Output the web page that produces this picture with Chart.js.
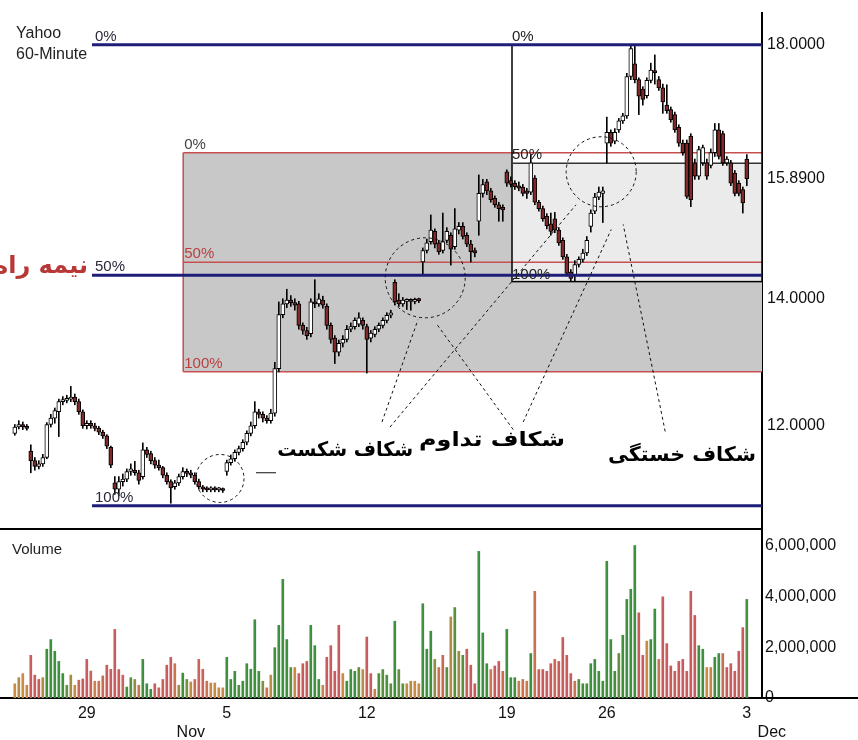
<!DOCTYPE html>
<html>
<head>
<meta charset="utf-8">
<script src="https://cdn.jsdelivr.net/npm/chart.js@4.4.0/dist/chart.umd.min.js"></script>
<style>
  html, body { margin: 0; padding: 0; background: #fff; }
  #wrap { position: relative; width: 858px; height: 740px; overflow: hidden; }
  #price { position: absolute; left: 0; top: 0; }
  #vol { position: absolute; left: 0; top: 528px; }
</style>
</head>
<body>
<div id="wrap">
  <canvas id="price" width="858" height="528"></canvas>
  <canvas id="vol" width="858" height="212"></canvas>
</div>
<script>
// hourly bars, Oct 24 (last hours) .. Dec 3 (first hour)
const openP = [
  11.88, 11.98, 12.02, 11.98, 11.60, 11.45, 11.36, 11.40, 11.50, 12.02,
  12.12, 12.22, 12.38, 12.40, 12.42, 12.45, 12.38, 12.22, 12.00, 12.04,
  12.00, 11.96, 11.90, 11.84, 11.66, 11.10, 11.00, 11.12, 11.16, 11.28,
  11.30, 11.26, 11.20, 11.62, 11.56, 11.45, 11.38, 11.34, 11.22, 11.12,
  11.04, 11.10, 11.20, 11.28, 11.26, 11.22, 11.12, 11.04, 11.00, 10.99,
  11.01, 10.99, 11.00, 11.28, 11.42, 11.48, 11.58, 11.64, 11.74, 11.88,
  12.00, 12.22, 12.18, 12.12, 12.08, 12.20, 12.90, 13.75, 13.92, 13.98,
  13.94, 13.92, 13.58, 13.50, 13.45, 13.95, 13.92, 13.98, 13.88, 13.58,
  13.38, 13.16, 13.30, 13.36, 13.52, 13.56, 13.60, 13.66, 13.56, 13.38,
  13.44, 13.52, 13.58, 13.66, 13.74, 14.26, 13.98, 13.92, 13.96, 13.97,
  13.96, 13.98, 14.58, 14.76, 14.90, 15.06, 14.88, 14.76, 14.92, 15.00,
  14.82, 15.08, 15.14, 15.00, 14.86, 14.76, 15.22, 15.66, 15.84, 15.70,
  15.58, 15.48, 15.44, 16.00, 15.86, 15.82, 15.78, 15.76, 15.70, 15.68,
  15.90, 15.52, 15.42, 15.30, 15.18, 15.26, 15.08, 14.92, 14.66, 14.42,
  14.36, 14.54, 14.62, 14.72, 15.14, 15.38, 15.60, 15.66, 16.45, 16.62,
  16.48, 16.66, 16.80, 16.88, 17.50, 17.70, 17.45, 17.30, 17.20, 17.44,
  17.58, 17.45, 17.32, 17.05, 16.98, 16.90, 16.70, 16.45, 16.45, 16.56,
  16.14, 15.93, 16.14, 16.14, 16.10, 16.30, 16.66, 16.60, 16.14, 16.14,
  15.98, 15.82, 15.72, 16.20
];
const highP = [
  12.02, 12.08, 12.06, 12.02, 11.70, 11.50, 11.45, 11.55, 12.05, 12.18,
  12.28, 12.42, 12.46, 12.48, 12.62, 12.50, 12.42, 12.25, 12.08, 12.08,
  12.04, 11.99, 11.93, 11.86, 11.68, 11.20, 11.20, 11.24, 11.32, 11.40,
  11.44, 11.30, 11.73, 11.66, 11.60, 11.50, 11.46, 11.36, 11.26, 11.15,
  11.14, 11.24, 11.34, 11.32, 11.30, 11.26, 11.16, 11.06, 11.04, 11.04,
  11.04, 11.03, 11.02, 11.46, 11.54, 11.62, 11.68, 11.78, 11.92, 12.06,
  12.38, 12.26, 12.22, 12.16, 12.26, 13.00, 13.95, 14.00, 14.15, 14.05,
  14.00, 13.96, 13.62, 13.55, 14.00, 14.30, 14.08, 14.04, 13.92, 13.62,
  13.42, 13.35, 13.42, 13.58, 13.62, 13.70, 13.78, 13.70, 13.60, 13.50,
  13.56, 13.62, 13.70, 13.78, 13.82, 14.30, 14.08, 14.02, 14.00, 14.00,
  14.01, 14.01, 14.80, 14.94, 15.32, 15.10, 14.92, 15.35, 15.12, 15.04,
  15.42, 15.20, 15.20, 15.04, 14.92, 14.80, 15.95, 15.88, 15.88, 15.74,
  15.62, 15.52, 15.48, 16.03, 15.92, 15.86, 15.84, 15.80, 15.74, 16.27,
  15.94, 15.55, 15.46, 15.34, 15.35, 15.36, 15.12, 14.96, 14.70, 14.46,
  14.60, 14.66, 14.78, 14.98, 15.40, 15.66, 15.76, 15.76, 16.86, 16.66,
  16.68, 16.84, 16.92, 17.55, 18.00, 18.00, 17.48, 17.34, 17.48, 17.71,
  17.84, 17.50, 17.38, 17.37, 17.02, 16.94, 16.74, 16.50, 16.50, 16.60,
  16.20, 16.40, 16.42, 16.20, 16.36, 16.76, 16.76, 16.64, 16.24, 16.18,
  16.02, 15.86, 15.76, 16.27
];
const lowP = [
  11.85, 11.95, 11.94, 11.93, 11.26, 11.30, 11.32, 11.36, 11.48, 11.98,
  12.04, 11.83, 12.33, 12.36, 12.38, 12.33, 12.18, 11.96, 11.95, 11.96,
  11.92, 11.86, 11.80, 11.64, 11.34, 10.92, 10.90, 11.05, 11.12, 11.22,
  11.22, 11.08, 11.16, 11.50, 11.40, 11.33, 11.30, 11.18, 11.08, 10.78,
  11.00, 11.06, 11.16, 11.20, 11.18, 11.08, 11.00, 10.96, 10.96, 10.96,
  10.96, 10.96, 10.95, 11.22, 11.38, 11.44, 11.54, 11.60, 11.70, 11.84,
  11.96, 12.12, 12.06, 12.04, 12.04, 12.15, 12.85, 13.70, 13.86, 13.88,
  13.82, 13.52, 13.44, 13.36, 13.40, 13.86, 13.88, 13.85, 13.52, 13.30,
  12.98, 13.10, 13.24, 13.32, 13.48, 13.52, 13.56, 13.52, 12.83, 13.32,
  13.40, 13.48, 13.54, 13.62, 13.70, 13.90, 13.88, 13.88, 13.83, 13.82,
  13.92, 13.94, 14.38, 14.72, 14.86, 14.80, 14.70, 14.72, 14.88, 14.53,
  14.78, 15.02, 14.94, 14.82, 14.58, 14.66, 15.00, 15.60, 15.64, 15.52,
  15.44, 15.22, 15.22, 15.77, 15.76, 15.72, 15.70, 15.62, 15.58, 15.64,
  15.48, 15.38, 15.22, 15.10, 15.00, 15.04, 14.84, 14.62, 14.36, 14.27,
  14.28, 14.50, 14.58, 14.68, 15.05, 15.34, 15.56, 15.20, 16.14, 16.40,
  16.44, 16.62, 16.76, 16.84, 17.45, 17.40, 16.90, 17.05, 17.16, 17.40,
  17.38, 17.28, 16.92, 16.92, 16.78, 16.62, 16.40, 16.26, 15.58, 15.45,
  15.88, 15.88, 16.10, 15.88, 16.06, 16.24, 16.20, 16.10, 16.10, 15.78,
  15.62, 15.62, 15.35, 15.78
];
const closeP = [
  11.98, 12.02, 11.98, 11.96, 11.45, 11.36, 11.40, 11.50, 12.02, 12.12,
  12.24, 12.38, 12.40, 12.42, 12.45, 12.38, 12.22, 12.00, 12.04, 12.00,
  11.96, 11.90, 11.84, 11.68, 11.38, 11.00, 11.12, 11.16, 11.28, 11.32,
  11.26, 11.14, 11.62, 11.55, 11.45, 11.38, 11.34, 11.22, 11.12, 11.02,
  11.10, 11.20, 11.28, 11.25, 11.22, 11.12, 11.04, 11.00, 10.99, 11.01,
  10.99, 11.00, 10.98, 11.42, 11.48, 11.58, 11.64, 11.74, 11.88, 12.00,
  12.22, 12.18, 12.12, 12.08, 12.20, 12.90, 13.75, 13.92, 13.98, 13.94,
  13.90, 13.58, 13.50, 13.42, 13.95, 13.92, 14.00, 13.90, 13.58, 13.36,
  13.16, 13.30, 13.36, 13.52, 13.56, 13.66, 13.70, 13.58, 13.36, 13.46,
  13.52, 13.58, 13.66, 13.74, 13.78, 13.95, 13.92, 13.98, 13.97, 13.96,
  13.98, 13.97, 14.76, 14.88, 15.08, 14.86, 14.74, 14.90, 15.06, 14.78,
  15.10, 15.14, 14.98, 14.86, 14.74, 14.72, 15.66, 15.80, 15.70, 15.56,
  15.48, 15.42, 15.40, 15.82, 15.80, 15.76, 15.74, 15.66, 15.66, 16.14,
  15.52, 15.42, 15.26, 15.15, 15.06, 15.08, 14.88, 14.66, 14.40, 14.32,
  14.54, 14.62, 14.72, 14.92, 15.35, 15.60, 15.68, 15.70, 16.62, 16.45,
  16.62, 16.80, 16.88, 17.50, 17.94, 17.45, 17.19, 17.14, 17.44, 17.60,
  17.56, 17.32, 17.10, 16.96, 16.82, 16.66, 16.45, 16.30, 15.61, 15.56,
  15.93, 16.35, 16.38, 15.93, 16.30, 16.66, 16.24, 16.14, 16.20, 15.82,
  15.66, 15.66, 15.51, 15.89
];
// volume in millions of shares
const volume = [
  0.56, 0.80, 0.96, 0.50, 1.68, 0.90, 0.73, 0.80, 1.92, 2.30,
  1.84, 1.44, 0.96, 0.50, 0.90, 0.50, 0.70, 0.75, 1.52, 1.06,
  0.66, 0.66, 0.87, 1.29, 1.13, 2.70, 1.12, 0.90, 0.43, 0.80,
  0.73, 0.50, 1.52, 0.56, 0.34, 0.56, 0.40, 0.73, 1.29, 1.60,
  1.35, 0.50, 0.98, 0.73, 0.63, 0.73, 1.52, 1.13, 0.66, 0.59,
  0.59, 0.40, 0.40, 1.60, 0.73, 1.05, 0.50, 0.66, 1.35, 1.13,
  3.08, 1.05, 0.66, 0.40, 0.90, 1.98, 2.86, 4.67, 2.30, 1.20,
  1.20, 0.96, 1.35, 1.44, 2.86, 2.06, 0.73, 0.50, 1.60, 2.06,
  1.05, 2.86, 0.96, 0.66, 1.12, 1.05, 1.20, 1.12, 2.40, 0.96,
  0.34, 0.96, 1.12, 0.90, 0.56, 3.02, 1.12, 0.56, 0.56, 0.66,
  0.66, 0.56, 3.71, 1.92, 2.63, 1.52, 1.20, 1.68, 1.20, 3.19,
  3.56, 1.84, 1.68, 1.92, 1.29, 0.56, 5.77, 2.56, 1.35, 1.12,
  1.26, 1.44, 1.05, 2.70, 0.80, 0.80, 0.66, 0.73, 0.66, 1.75,
  4.20, 1.12, 1.12, 1.05, 1.35, 1.52, 1.44, 2.38, 1.68, 0.96,
  0.66, 0.73, 0.56, 0.56, 1.35, 1.52, 1.05, 0.66, 5.38, 2.30,
  1.05, 1.75, 2.47, 3.88, 4.28, 6.00, 3.35, 1.68, 2.24, 2.30,
  3.50, 1.52, 3.98, 2.14, 1.26, 1.05, 1.44, 1.52, 1.05, 4.20,
  3.25, 2.06, 1.92, 1.20, 1.20, 1.60, 1.75, 1.75, 1.20, 1.35,
  1.05, 1.84, 2.77, 3.88
];

const dateTicks = [18, 53, 88, 123, 148, 183];
const dateLabels = ['29', '5', '12', '19', '26', '3'];
const monthLabels = [{ at: 53, text: 'Nov', dx: -36 }, { at: 183, text: 'Dec', dx: 25 }];
const priceTicks = [12, 14, 15.89, 18];
const volumeTicks = [0, 2, 4, 6];

// fibonacci levels (0%, 50%, 100%) and the bar where each set starts
const swingLevels = [18.0, 14.37, 10.74];
const swingFrom = 19.3;
const boxLevels = [16.30, 14.575, 12.85];
const boxFrom = 42.1;
const pullbackLevels = [18.0, 16.135, 14.27];
const pullbackFrom = 124.3;

const gapCircles = [
  { x: 51.3, y: 11.17, r: 24 },
  { x: 102.6, y: 14.33, r: 40 },
  { x: 146.6, y: 16.0, r: 35 }
];
const leaderLines = [
  [91.8, 12.06, 100.8, 13.67],
  [93.8, 11.98, 140.3, 15.48],
  [124.6, 11.94, 105.6, 13.59],
  [127.1, 12.06, 149.1, 15.09],
  [162.6, 11.91, 152.1, 15.17]
];
const gapLabels = [
  { text: 'شکاف شکست', x: 82.6, y: 11.60, w: 136 },
  { text: 'شکاف تداوم', x: 119.3, y: 11.76, w: 146 },
  { text: 'شکاف خستگی', x: 166.8, y: 11.52, w: 148 }
];

const xMin = -3.7;
const xMax = 186.8;
const FONT = '"Liberation Sans", Arial, sans-serif';

const bodies = openP.map((o, i) => ({ x: i, y: [o, closeP[i]], up: closeP[i] >= o }));
const wicks = lowP.map((l, i) => ({ x: i, y: [l, highP[i]] }));

const green = [63, 143, 63];
const orange = [200, 140, 72];
const red = [200, 92, 92];
const mix = (a, b, t) => a.map((v, k) => Math.round(v + (b[k] - v) * t));
const volumeColor = (i) => {
  const m = closeP[i] - closeP[Math.max(0, i - 3)];
  const t = Math.max(-1, Math.min(1, m / 0.25));
  const c = t >= 0 ? mix(orange, green, t) : mix(orange, red, -t);
  return `rgb(${c})`;
};

const line = (ctx, x1, y1, x2, y2) => {
  ctx.beginPath();
  ctx.moveTo(x1, y1);
  ctx.lineTo(x2, y2);
  ctx.stroke();
};

const levelLabel = (ctx, text, x, y, color) => {
  ctx.fillStyle = color;
  ctx.font = '15px ' + FONT;
  ctx.textAlign = 'left';
  ctx.textBaseline = 'alphabetic';
  ctx.fillText(text, x + 3, y - 4);
};

// stop the axis from shrinking the plot to fit its end labels
const noEdgePadding = (axis) => {
  axis.width = 96;
  axis.paddingTop = 0;
  axis.paddingBottom = 0;
};

const pctNames = ['0%', '50%', '100%'];

const fibOverlay = {
  id: 'fibOverlay',
  beforeDatasetsDraw(chart) {
    const { ctx, chartArea: a, scales: { x, y } } = chart;
    const right = a.right;
    ctx.save();
    // shaded retracement box
    const bx = x.getPixelForValue(boxFrom);
    const bTop = y.getPixelForValue(boxLevels[0]);
    const bBot = y.getPixelForValue(boxLevels[2]);
    ctx.fillStyle = '#c8c8c8';
    ctx.fillRect(bx, bTop, right - bx, bBot - bTop);
    // pullback box: white upper half, pale lower half
    const px = x.getPixelForValue(pullbackFrom);
    const pTop = y.getPixelForValue(pullbackLevels[0]);
    const pMid = y.getPixelForValue(pullbackLevels[1]);
    const pBot = y.getPixelForValue(pullbackLevels[2]);
    ctx.fillStyle = '#ffffff';
    ctx.fillRect(px, pTop, right - px, pMid - pTop);
    ctx.fillStyle = '#ebebeb';
    ctx.fillRect(px, pMid, right - px, pBot - pMid);

    ctx.strokeStyle = '#c65050';
    ctx.lineWidth = 1.5;
    boxLevels.forEach((lv) => {
      const yy = y.getPixelForValue(lv);
      line(ctx, bx, yy, right, yy);
    });
    line(ctx, bx, bTop, bx, bBot);

    ctx.strokeStyle = '#000';
    ctx.lineWidth = 1.5;
    ctx.strokeRect(px, pTop, right - px, pBot - pTop);
    ctx.strokeStyle = '#333';
    line(ctx, px, pMid, right, pMid);
    ctx.restore();
  },
  afterDatasetsDraw(chart) {
    const { ctx, chartArea: a, scales: { x, y } } = chart;
    const right = a.right;
    ctx.save();
    // main swing levels
    const sx = x.getPixelForValue(swingFrom);
    ctx.strokeStyle = '#1e1e7a';
    ctx.lineWidth = 3;
    swingLevels.forEach((lv) => {
      const yy = y.getPixelForValue(lv);
      line(ctx, sx, yy, right, yy);
    });
    swingLevels.forEach((lv, k) => levelLabel(ctx, pctNames[k], sx, y.getPixelForValue(lv), '#2a2a3a'));

    const bx = x.getPixelForValue(boxFrom);
    boxLevels.forEach((lv, k) => levelLabel(ctx, pctNames[k], bx - 2, y.getPixelForValue(lv), k === 0 ? '#444' : '#b84040'));
    const px = x.getPixelForValue(pullbackFrom);
    pullbackLevels.forEach((lv, k) => levelLabel(ctx, pctNames[k], px - 3, y.getPixelForValue(lv) + (k === 2 ? 1 : 0), '#222'));

    // half-way label, partly cut by the left edge as in the original
    ctx.fillStyle = '#b83838';
    ctx.font = 'bold 24px "DejaVu Sans", sans-serif';
    ctx.textAlign = 'right';
    ctx.textBaseline = 'middle';
    ctx.fillText('نیمه راه', sx - 4, y.getPixelForValue(swingLevels[1]) - 8);

    // gap circles and leader lines
    ctx.strokeStyle = '#111';
    ctx.lineWidth = 1;
    ctx.setLineDash([3, 3]);
    gapCircles.forEach((c) => {
      ctx.beginPath();
      ctx.arc(x.getPixelForValue(c.x), y.getPixelForValue(c.y), c.r, 0, Math.PI * 2);
      ctx.stroke();
    });
    leaderLines.forEach(([x1, y1, x2, y2]) => {
      line(ctx, x.getPixelForValue(x1), y.getPixelForValue(y1), x.getPixelForValue(x2), y.getPixelForValue(y2));
    });
    ctx.setLineDash([]);
    const tick = y.getPixelForValue(11.26);
    line(ctx, x.getPixelForValue(60.3), tick, x.getPixelForValue(65.3), tick);

    ctx.fillStyle = '#000';
    ctx.font = 'bold 20px "DejaVu Sans", sans-serif';
    ctx.textAlign = 'center';
    ctx.textBaseline = 'middle';
    gapLabels.forEach((g) => {
      const cx = x.getPixelForValue(g.x);
      const cy = y.getPixelForValue(g.y);
      const s = g.w / ctx.measureText(g.text).width;
      ctx.save();
      ctx.translate(cx, cy);
      ctx.scale(s, 1);
      ctx.fillText(g.text, 0, 0);
      ctx.restore();
    });

    // title
    ctx.fillStyle = '#222';
    ctx.font = '16px ' + FONT;
    ctx.textAlign = 'left';
    ctx.textBaseline = 'alphabetic';
    ctx.fillText('Yahoo', 16, 38);
    ctx.fillText('60-Minute', 16, 59);
    ctx.restore();
  }
};

new Chart(document.getElementById('price'), {
  type: 'bar',
  data: {
    datasets: [
      {
        label: 'body',
        data: bodies,
        order: 0,
        grouped: false,
        barThickness: 4,
        minBarLength: 2,
        backgroundColor: (c) => (c.raw && c.raw.up ? '#ffffff' : '#822828'),
        borderColor: '#000',
        borderWidth: 1,
        borderSkipped: false
      },
      {
        label: 'wick',
        data: wicks,
        order: 1,
        grouped: false,
        barThickness: 1,
        backgroundColor: '#000',
        borderWidth: 0
      }
    ]
  },
  options: {
    responsive: false,
    animation: false,
    layout: { padding: { top: 13, left: 0, right: 0, bottom: 0 } },
    plugins: { legend: { display: false }, tooltip: { enabled: false } },
    scales: {
      x: { type: 'linear', min: xMin, max: xMax, offset: false, display: false },
      y: {
        position: 'right',
        min: 10.39,
        max: 18.5,
        grid: { display: false, drawTicks: false },
        border: { display: true, color: '#000', width: 2 },
        afterBuildTicks: (axis) => { axis.ticks = priceTicks.map((v) => ({ value: v })); },
        afterFit: noEdgePadding,
        ticks: {
          padding: 5,
          color: '#111',
          font: { family: FONT, size: 16 },
          callback: (v) => Number(v).toFixed(4)
        }
      }
    }
  },
  plugins: [fibOverlay]
});

const volumeFrame = {
  id: 'volumeFrame',
  afterDraw(chart) {
    const { ctx, chartArea: a, scales: { x } } = chart;
    ctx.save();
    ctx.strokeStyle = '#000';
    ctx.lineWidth = 2;
    line(ctx, 0, a.top + 1, a.right, a.top + 1);
    line(ctx, a.right, a.bottom, chart.width, a.bottom);
    ctx.fillStyle = '#222';
    ctx.font = '15px ' + FONT;
    ctx.textAlign = 'left';
    ctx.textBaseline = 'alphabetic';
    ctx.fillText('Volume', 12, 26);
    ctx.font = '16px ' + FONT;
    ctx.textAlign = 'center';
    ctx.textBaseline = 'middle';
    ctx.fillStyle = '#111';
    monthLabels.forEach((m) => ctx.fillText(m.text, x.getPixelForValue(m.at) + m.dx, a.bottom + 35));
    ctx.restore();
  }
};

new Chart(document.getElementById('vol'), {
  type: 'bar',
  data: {
    datasets: [{
      label: 'Volume',
      data: volume.map((v, i) => ({ x: i, y: v })),
      barThickness: 2,
      backgroundColor: volume.map((v, i) => volumeColor(i)),
      borderWidth: 0
    }]
  },
  options: {
    responsive: false,
    animation: false,
    layout: { padding: { top: 0, left: 0, right: 0, bottom: 0 } },
    plugins: { legend: { display: false }, tooltip: { enabled: false } },
    scales: {
      x: {
        type: 'linear',
        min: xMin,
        max: xMax,
        offset: false,
        grid: { display: false, drawTicks: false },
        border: { display: true, color: '#000', width: 2 },
        afterBuildTicks: (axis) => { axis.ticks = dateTicks.map((v) => ({ value: v })); },
        afterFit: (axis) => { axis.height = 42; axis.paddingLeft = 0; axis.paddingRight = 0; },
        ticks: {
          autoSkip: false,
          maxRotation: 0,
          padding: 6,
          color: '#111',
          font: { family: FONT, size: 16 },
          callback: (v, i) => dateLabels[i]
        }
      },
      y: {
        position: 'right',
        min: 0,
        max: 6.69,
        grid: { display: false, drawTicks: false },
        border: { display: true, color: '#000', width: 2 },
        afterBuildTicks: (axis) => { axis.ticks = volumeTicks.map((v) => ({ value: v })); },
        afterFit: noEdgePadding,
        ticks: {
          padding: 3,
          color: '#111',
          font: { family: FONT, size: 16 },
          callback: (v) => (v * 1e6).toLocaleString('en-US')
        }
      }
    }
  },
  plugins: [volumeFrame]
});
</script>
</body>
</html>
